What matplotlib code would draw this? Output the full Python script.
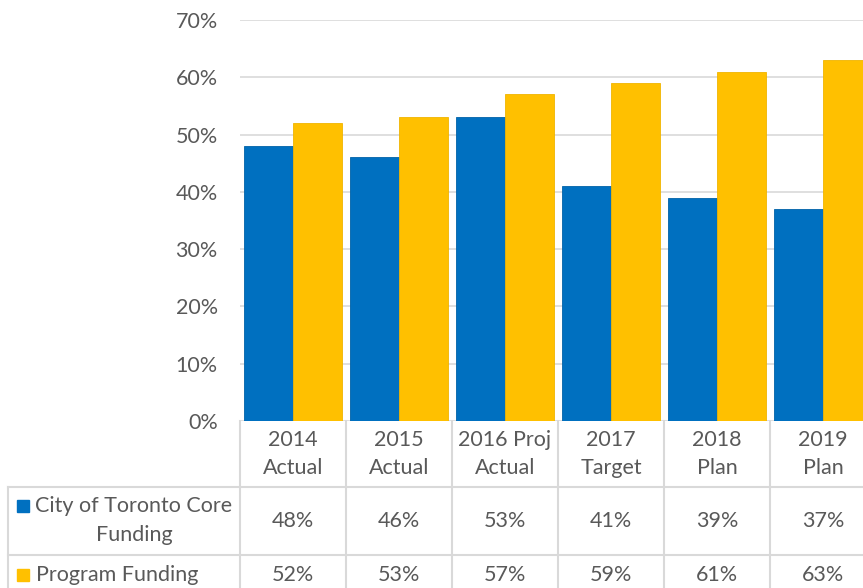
import numpy as np
import matplotlib
matplotlib.use("Agg")
import matplotlib.pyplot as plt
from matplotlib.patches import Rectangle

plt.rcParams['font.family'] = ['Lato', 'DejaVu Sans']

categories = [("2014", "Actual"), ("2015", "Actual"), ("2016 Proj", "Actual"),
              ("2017", "Target"), ("2018", "Plan"), ("2019", "Plan")]
core_funding = [48, 46, 53, 41, 39, 37]
program_funding = [52, 53, 57, 59, 61, 63]
yticks = [0, 10, 20, 30, 40, 50, 60, 70]

BLUE = "#0070C0"
GOLD = "#FFC000"
TXT = "#595959"
GRID = "#D9D9D9"
FS = 15.5

W, H = 863, 588
fig = plt.figure(figsize=(W / 100, H / 100), dpi=100)

# pixel helpers (origin top-left)
def fx(x):
    return x / W

def fy(y):
    return 1 - y / H

ax_left, ax_right, ax_top, ax_bot = 240, 876, 20, 421
ax = fig.add_axes([fx(ax_left), fy(ax_bot), (ax_right - ax_left) / W, (ax_bot - ax_top) / H])

x = np.arange(len(categories))
bw = 0.462
ax.bar(x - bw / 2, core_funding, bw, color=BLUE, edgecolor="#0062A8", linewidth=0.6, zorder=3)
ax.bar(x + bw / 2, program_funding, bw, color=GOLD, edgecolor="#F0B400", linewidth=0.6, zorder=3)

ax.set_xlim(-0.5, len(categories) - 0.5)
ax.set_ylim(0, 70)
ax.set_yticks(yticks)
ax.set_yticklabels([f"{v}%" for v in yticks], fontsize=FS, color=TXT)
ax.set_xticks([])
ax.tick_params(axis="y", length=0, pad=16)
for v in yticks:
    ax.axhline(v, color=GRID, lw=1.2, zorder=1)
for s in ax.spines.values():
    s.set_visible(False)

# data table drawn in figure pixels
col_w = (ax_right - ax_left) / len(categories)
row_lines = [421, 487, 555, 622]
lc = dict(color=GRID, lw=1.5, transform=fig.transFigure, clip_on=False)

# vertical lines
for i in range(len(categories) + 1):
    xp = ax_left + i * col_w
    fig.add_artist(plt.Line2D([fx(xp), fx(xp)], [fy(421), fy(622)], **lc))
fig.add_artist(plt.Line2D([fx(8), fx(8)], [fy(487), fy(622)], **lc))
# horizontal lines
for yp in row_lines[1:]:
    fig.add_artist(plt.Line2D([fx(8), fx(ax_right)], [fy(yp), fy(yp)], **lc))

for i, (a, b) in enumerate(categories):
    cx = fx(ax_left + (i + 0.5) * col_w)
    fig.text(cx, fy(440), a, ha="center", va="center", fontsize=FS, color=TXT)
    fig.text(cx, fy(468), b, ha="center", va="center", fontsize=FS, color=TXT)
    fig.text(cx, fy(521), f"{core_funding[i]}%", ha="center", va="center", fontsize=FS, color=TXT)
    fig.text(cx, fy(575), f"{program_funding[i]}%", ha="center", va="center", fontsize=FS, color=TXT)

# row labels with legend keys
fig.add_artist(Rectangle((fx(17), fy(512)), 12 / W, 12 / H, color=BLUE, transform=fig.transFigure))
fig.text(fx(134), fy(506), "City of Toronto Core", ha="center", va="center", fontsize=FS, color=TXT)
fig.text(fx(134), fy(535), "Funding", ha="center", va="center", fontsize=FS, color=TXT)
fig.add_artist(Rectangle((fx(17), fy(581)), 12 / W, 12 / H, color=GOLD, transform=fig.transFigure))
fig.text(fx(36), fy(575), "Program Funding", ha="left", va="center", fontsize=FS, color=TXT)

fig.savefig("out.png", dpi=100)
